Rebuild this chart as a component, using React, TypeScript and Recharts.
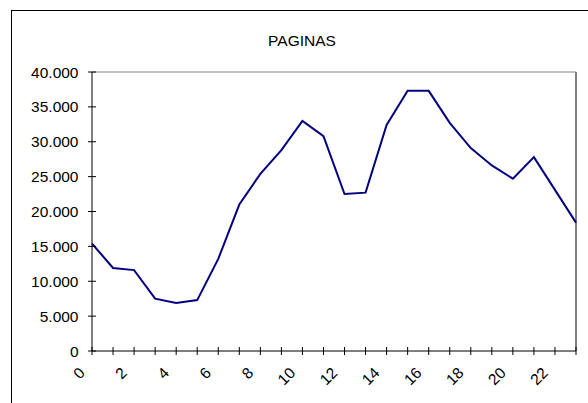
import React from 'react';
import { LineChart, Line, XAxis, YAxis, ReferenceLine } from 'recharts';

const hours: number[] = [0, 1, 2, 3, 4, 5, 6, 7, 8, 9, 10, 11, 12, 13, 14, 15, 16, 17, 18, 19, 20, 21, 22, 23];
const paginas: number[] = [
  15400, 11900, 11600, 7500, 6900, 7300, 13200, 21000, 25400, 28800, 33000, 30800,
  22500, 22700, 32400, 37300, 37300, 32700, 29100, 26600, 24700, 27800, 23100, 18400,
];
const yTicks: number[] = [0, 5000, 10000, 15000, 20000, 25000, 30000, 35000, 40000];
const yTickLabels: string[] = ['0', '5.000', '10.000', '15.000', '20.000', '25.000', '30.000', '35.000', '40.000'];
const xLabelHours: number[] = [0, 2, 4, 6, 8, 10, 12, 14, 16, 18, 20, 22];
const title = 'PAGINAS';

const data = hours.map((h, i) => ({ hour: h, value: paginas[i] }));

const FONT = '"Liberation Sans", Arial, sans-serif';
const FS = 15.5;

const XTick = (props: any) => {
  const { x, y, payload } = props;
  const v = payload.value;
  const show = xLabelHours.includes(v);
  const lx = x - 10;
  const ly = y + 19;
  return (
    <g>
      <line x1={x} y1={y - 4} x2={x} y2={y + 4} stroke="#000" strokeWidth={1} />
      {show && (
        <text
          x={lx}
          y={ly}
          textAnchor="end"
          dominantBaseline="central"
          transform={`rotate(-45, ${lx}, ${ly})`}
          fontFamily={FONT}
          fontSize={FS}
          fill="#000"
        >
          {String(v)}
        </text>
      )}
    </g>
  );
};

const YTick = (props: any) => {
  const { x, y, payload } = props;
  const idx = yTicks.indexOf(payload.value);
  const label = idx >= 0 ? yTickLabels[idx] : String(payload.value);
  return (
    <g>
      <line x1={x - 4} y1={y} x2={x + 4} y2={y} stroke="#000" strokeWidth={1} />
      <text
        x={x - 13.5}
        y={y}
        textAnchor="end"
        dominantBaseline="central"
        fontFamily={FONT}
        fontSize={FS}
        fill="#000"
      >
        {label}
      </text>
    </g>
  );
};

export default function App() {
  return (
    <div style={{ position: 'absolute', left: 0, top: 0, width: 588, height: 403, background: '#fff', overflow: 'hidden' }}>
      <div
        style={{
          position: 'absolute',
          left: 11,
          top: 10,
          width: 600,
          height: 420,
          borderLeft: '1px solid #000',
          borderTop: '1px solid #000',
          boxSizing: 'border-box',
        }}
      />
      <svg width={588} height={60} style={{ position: 'absolute', left: 0, top: 0 }}>
        <text x={302} y={45.5} textAnchor="middle" fontFamily={FONT} fontSize={FS} fill="#000">
          {title}
        </text>
      </svg>
      <div style={{ position: 'absolute', left: 0, top: 0 }}>
        <LineChart width={588} height={403} data={data} margin={{ top: 72, right: 12, bottom: 2, left: 12 }}>
          <XAxis
            dataKey="hour"
            type="number"
            domain={[0, 23]}
            ticks={hours}
            interval={0}
            height={50}
            tickSize={0}
            tickMargin={0}
            tickLine={false}
            axisLine={{ stroke: '#000', strokeWidth: 1 }}
            tick={<XTick />}
            allowDecimals={false}
          />
          <YAxis
            type="number"
            domain={[0, 40000]}
            ticks={yTicks}
            interval={0}
            width={80}
            tickSize={0}
            tickMargin={0}
            tickLine={false}
            axisLine={{ stroke: '#000', strokeWidth: 1 }}
            tick={<YTick />}
          />
          <ReferenceLine y={40000} stroke="#808080" strokeWidth={1} />
          <ReferenceLine x={23} stroke="#808080" strokeWidth={2} />
          <Line
            type="linear"
            dataKey="value"
            stroke="#000080"
            strokeWidth={2}
            dot={false}
            activeDot={false}
            isAnimationActive={false}
          />
        </LineChart>
      </div>
    </div>
  );
}
